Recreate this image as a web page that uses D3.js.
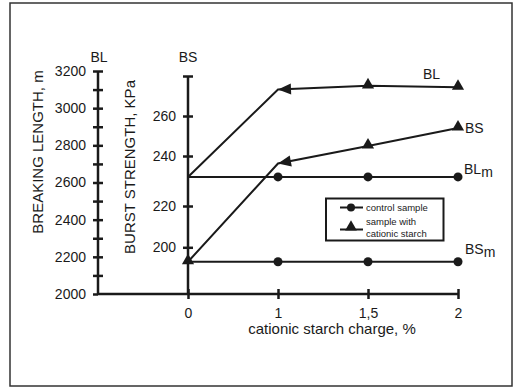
<!DOCTYPE html>
<html><head><meta charset="utf-8">
<script src="https://cdn.jsdelivr.net/npm/d3@7"></script>
<style>
html,body{margin:0;padding:0;background:#fff;}
svg{display:block;font-family:"Liberation Sans",Arial,sans-serif;}
</style></head>
<body>
<svg id="c" width="518" height="387"></svg>
<script>
// ---- data ----
const categories = ["0", "1", "1,5", "2"];
const blCationic = [2630, 3100, 3120, 3112];   // breaking length, sample with cationic starch
const blControl  = [2630, 2630, 2630, 2630];   // breaking length, control sample
const bsCationic = [193, 237, 245, 254];       // burst strength, sample with cationic starch
const bsControl  = [193, 193, 193, 193];       // burst strength, control sample
const blTicks = [2000, 2100, 2200, 2300, 2400, 2500, 2600, 2700, 2800, 2900, 3000, 3100, 3200];
const blTickLabels = [2000, 2200, 2400, 2600, 2800, 3000, 3200];
const bsTicks = [200, 220, 240, 260, 280];
const bsTickLabels = [200, 220, 240, 260];
const legendItems = [["control sample"], ["sample with", "cationic starch"]];

// ---- layout ----
const svg = d3.select("#c");
const ink = "#1a1a1a";
svg.append("rect").attr("x", 10).attr("y", 3).attr("width", 502).attr("height", 383)
  .attr("fill", "none").attr("stroke", "#333").attr("stroke-width", 1.5);

const blAxisX = 98, baseY = 294;
const x = d3.scalePoint().domain(categories).range([188, 458]);
const yBL = d3.scaleLinear().domain([2000, 3200]).range([baseY, 71]);
const yBS = d3.scaleLinear().domain([200, 220, 240, 260, 280]).range([247.3, 206, 156, 116, 76]);
const bsAxisX = x("0");

// BL axis
const gBL = svg.append("g").attr("transform", `translate(${blAxisX},0)`)
  .call(d3.axisLeft(yBL).tickValues(blTicks).tickSizeOuter(0)
    .tickFormat(d => blTickLabels.includes(d) ? d : ""));
gBL.select(".domain").remove();
gBL.selectAll(".tick line").attr("x1", d => d === 2000 ? -5 : -5).attr("x2", d => d === 2000 ? 0 : 5)
  .attr("stroke", ink).attr("stroke-width", 2.5);
gBL.selectAll(".tick text").attr("x", -12).attr("font-size", 14).attr("fill", ink).attr("font-family", null);
svg.append("line").attr("x1", blAxisX).attr("x2", blAxisX).attr("y1", yBL(3200)).attr("y2", baseY)
  .attr("stroke", ink).attr("stroke-width", 2.5);

// BS axis
const gBS = svg.append("g").attr("transform", `translate(${bsAxisX},0)`)
  .call(d3.axisLeft(yBS).tickValues(bsTicks).tickSizeOuter(0)
    .tickFormat(d => bsTickLabels.includes(d) ? d : ""));
gBS.select(".domain").remove();
gBS.selectAll(".tick line").attr("x1", -5).attr("x2", 5).attr("stroke", ink).attr("stroke-width", 2.5);
gBS.selectAll(".tick text").attr("x", -12).attr("font-size", 14).attr("fill", ink).attr("font-family", null);
svg.append("line").attr("x1", bsAxisX).attr("x2", bsAxisX).attr("y1", yBS(280)).attr("y2", baseY)
  .attr("stroke", ink).attr("stroke-width", 2.5);

// X axis
const gX = svg.append("g").attr("transform", `translate(0,${baseY})`)
  .call(d3.axisBottom(x).tickSizeOuter(0));
gX.select(".domain").remove();
gX.selectAll(".tick line").attr("y1", -5).attr("y2", 5).attr("stroke", ink).attr("stroke-width", 2.5);
gX.selectAll(".tick text").attr("y", 14).attr("font-size", 14).attr("fill", ink).attr("font-family", null);
svg.append("line").attr("x1", blAxisX).attr("x2", x("2")).attr("y1", baseY).attr("y2", baseY)
  .attr("stroke", ink).attr("stroke-width", 2.5);

// axis titles
const txt = (s, xx, yy, size, anchor) => svg.append("text").attr("x", xx).attr("y", yy)
  .attr("font-size", size).attr("text-anchor", anchor || "start").attr("fill", ink).text(s);
txt("BL", blAxisX + 1, 62, 14, "middle");
txt("BS", bsAxisX, 62, 14, "middle");
svg.append("text").attr("transform", "translate(43,152) rotate(-90)").attr("text-anchor", "middle")
  .attr("font-size", 15).attr("fill", ink).text("BREAKING LENGTH, m");
svg.append("text").attr("transform", "translate(135,167) rotate(-90)").attr("text-anchor", "middle")
  .attr("font-size", 15).attr("fill", ink).text("BURST STRENGTH, KPa");
txt("cationic starch charge, %", 332, 334, 15, "middle");

// ---- series ----
const lineBL = d3.line().x((d, i) => x(categories[i])).y(d => yBL(d));
const lineBS = d3.line().x((d, i) => x(categories[i])).y(d => yBS(d));
const addPath = (data, gen) => svg.append("path").datum(data).attr("d", gen)
  .attr("fill", "none").attr("stroke", ink).attr("stroke-width", 2);
addPath(blControl, lineBL);
addPath(bsControl, lineBS);
addPath(blCationic, lineBL);
addPath(bsCationic, lineBS);

const tri = d3.symbol().type(d3.symbolTriangle).size(64);
function markers(data, yScale, kind, skipFirst) {
  data.forEach((v, i) => {
    if (skipFirst && i === 0) return;
    const px = x(categories[i]), py = yScale(v);
    if (kind === "circle") {
      svg.append("circle").attr("cx", px).attr("cy", py).attr("r", 4.5).attr("fill", ink);
    } else if (i === 1) {
      // arrowhead pointing back along the following segment
      const nx = x(categories[2]), ny = yScale(data[2]);
      const ang = Math.atan2(ny - py, nx - px) * 180 / Math.PI;
      svg.append("path").attr("d", "M0,0L13,-5.5L13,5.5Z")
        .attr("transform", `translate(${px},${py}) rotate(${ang})`).attr("fill", ink);
    } else {
      svg.append("path").attr("d", tri).attr("transform", `translate(${px},${py - 1})`).attr("fill", ink);
    }
  });
}
markers(blControl, yBL, "circle", true);
markers(bsControl, yBS, "circle", true);
markers(blCationic, yBL, "tri", true);
markers(bsCationic, yBS, "tri", false);

// series labels
txt("BL", 423, 79, 14);
txt("BS", 465, 133, 14);
const lblBLm = txt("BL", 464, 174, 14);
lblBLm.append("tspan").attr("dy", 3).text("m");
const lblBSm = txt("BS", 465, 254, 14);
lblBSm.append("tspan").attr("dy", 3).text("m");

// ---- legend ----
const lg = svg.append("g");
lg.append("rect").attr("x", 326).attr("y", 198.5).attr("width", 117.5).attr("height", 42)
  .attr("fill", "#fff").attr("stroke", ink).attr("stroke-width", 2);
lg.append("line").attr("x1", 340).attr("x2", 363).attr("y1", 207.5).attr("y2", 207.5).attr("stroke", ink).attr("stroke-width", 2);
lg.append("circle").attr("cx", 351).attr("cy", 207.5).attr("r", 4).attr("fill", ink);
lg.append("line").attr("x1", 340).attr("x2", 363).attr("y1", 229.5).attr("y2", 229.5).attr("stroke", ink).attr("stroke-width", 2);
lg.append("path").attr("d", d3.symbol().type(d3.symbolTriangle).size(60)).attr("transform", "translate(351,227)").attr("fill", ink);
lg.append("text").attr("x", 366).attr("y", 211).attr("font-size", 9.5).attr("fill", ink).text(legendItems[0][0]);
lg.append("text").attr("x", 366).attr("y", 225).attr("font-size", 9.5).attr("fill", ink).text(legendItems[1][0]);
lg.append("text").attr("x", 366).attr("y", 236.5).attr("font-size", 9.5).attr("fill", ink).text(legendItems[1][1]);
</script>
</body></html>
